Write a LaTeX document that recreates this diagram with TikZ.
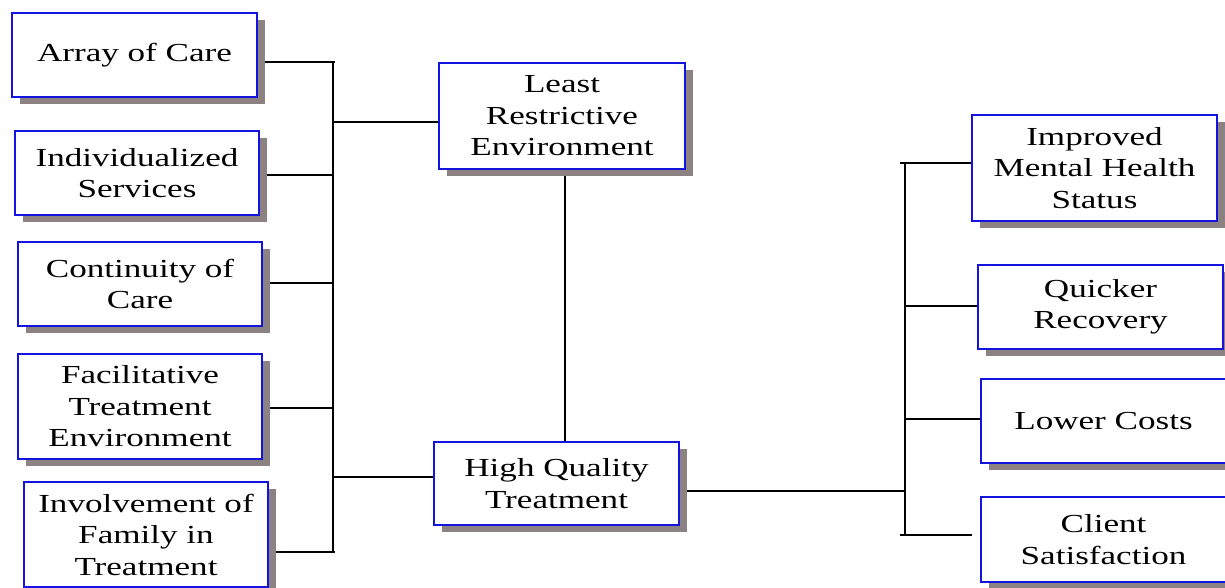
\documentclass[tikz,border=0pt]{standalone}
\usepackage{fontspec}
\setmainfont[FakeStretch=1.35]{Liberation Serif}
\usetikzlibrary{shadows}
\definecolor{boxblue}{RGB}{20,20,225}
\definecolor{shadowgray}{RGB}{140,130,130}
\pgfdeclarelayer{paper}
\pgfdeclarelayer{bg}
\pgfsetlayers{paper,bg,main}
\tikzset{
  box/.style={draw=boxblue, line width=1.8pt, fill=white, inner sep=0pt,
    align=center, font=\fontsize{26}{31.5}\selectfont,
    drop shadow={shadow xshift=8pt, shadow yshift=-7pt, fill=shadowgray, opacity=1}},
  conn/.style={draw=black, line width=1.6pt}
}
\begin{document}
\begin{tikzpicture}[x=1pt,y=-1pt]
\clip (0,0) rectangle (1225,588);
\begin{pgfonlayer}{paper}
\fill[white] (0,0) rectangle (1225,588);
\end{pgfonlayer}
% left column
\node[box, minimum width=245pt, minimum height=84pt] (care) at (134.5,55) {Array of Care};
\node[box, minimum width=244pt, minimum height=84pt] (indiv) at (137,173) {Individualized\\Services};
\node[box, minimum width=244pt, minimum height=84pt] (cont) at (140,284) {Continuity of\\Care};
\node[box, minimum width=244pt, minimum height=105pt] (facil) at (140,406.5) {Facilitative\\Treatment\\Environment};
\node[box, minimum width=244pt, minimum height=105pt] (invol) at (146,534.5) {Involvement of\\Family in\\Treatment};
% middle
\node[box, minimum width=246pt, minimum height=106pt] (lre) at (562,116) {Least\\Restrictive\\Environment};
\node[box, minimum width=245pt, minimum height=83pt] (hqt) at (556.5,483.5) {High Quality\\Treatment};
% right column
\node[box, minimum width=245pt, minimum height=106pt] (imp) at (1094.5,168) {Improved\\Mental Health\\Status};
\node[box, minimum width=245pt, minimum height=84pt] (quick) at (1100.5,307) {Quicker\\Recovery};
\node[box, minimum width=245pt, minimum height=84pt] (lower) at (1103.5,421) {Lower Costs};
\node[box, minimum width=245pt, minimum height=85pt] (client) at (1103.5,539.5) {Client\\Satisfaction};
% bus coordinates
\coordinate (lb1) at (335,62);
\coordinate (lb2) at (333,175);
\coordinate (lb3) at (333,283);
\coordinate (lb4) at (333,408);
\coordinate (lb5) at (335,552);
\coordinate (lbL) at (333,122);
\coordinate (lbH) at (333,477);
\coordinate (vx) at (565,0);
\coordinate (rb0) at (905,491);
\coordinate (rb1) at (900,163);
\coordinate (rb2) at (905,306);
\coordinate (rb3) at (905,419);
\coordinate (rb4) at (900,535);
\begin{pgfonlayer}{bg}
\draw[conn] (333,62) -- (333,552);
\draw[conn] (care.east |- lb1) -- (lb1);
\draw[conn] (indiv.east |- lb2) -- (lb2);
\draw[conn] (cont.east |- lb3) -- (lb3);
\draw[conn] (facil.east |- lb4) -- (lb4);
\draw[conn] (invol.east |- lb5) -- (lb5);
\draw[conn] (lbL) -- (lre.west |- lbL);
\draw[conn] (lbH) -- (hqt.west |- lbH);
\draw[conn] (lre.south -| vx) -- (hqt.north -| vx);
\draw[conn] (hqt.east |- rb0) -- (rb0);
\draw[conn] (905,163) -- (905,535);
\draw[conn] (rb1) -- (imp.west |- rb1);
\draw[conn] (rb2) -- (quick.west |- rb2);
\draw[conn] (rb3) -- (lower.west |- rb3);
\draw[conn, shorten >=8pt] (rb4) -- (client.west |- rb4);
\end{pgfonlayer}
\end{tikzpicture}
\end{document}
